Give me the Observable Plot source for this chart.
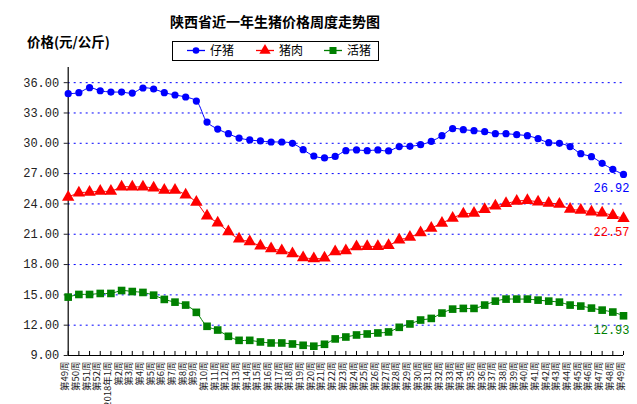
<!DOCTYPE html>
<html>
<head>
<meta charset="utf-8">
<script src="https://cdn.jsdelivr.net/npm/d3@7"></script>
<script src="https://cdn.jsdelivr.net/npm/@observablehq/plot@0.6"></script>
<style>
  html, body { margin: 0; padding: 0; background: #fff; }
  #wrap { position: relative; width: 637px; height: 404px; overflow: hidden; }
  #wrap svg.plot { position: absolute; left: 0; top: 0; }
  .ttl { position: absolute; font-family: "Noto Sans CJK SC", sans-serif; font-weight: bold; color: #000; white-space: nowrap; }
</style>
</head>
<body>
<div id="wrap"></div>
<script>
const weeks = ["第49周","第50周","第51周","第52周","2018年1周","第2周","第3周","第4周","第5周","第6周",
  "第7周","第8周","第9周","第10周","第11周","第12周","第13周","第14周","第15周","第16周",
  "第17周","第18周","第19周","第20周","第21周","第22周","第23周","第24周","第25周","第26周",
  "第27周","第28周","第29周","第30周","第31周","第32周","第33周","第34周","第35周","第36周",
  "第37周","第38周","第39周","第40周","第41周","第42周","第43周","第44周","第45周","第46周",
  "第47周","第48周","第49周"];

const piglet = [34.91,35.01,35.5,35.2,35.07,35.07,34.97,35.47,35.37,35.01,
  34.78,34.58,34.18,32.1,31.41,30.95,30.52,30.33,30.23,30.13,
  30.13,30.0,29.37,28.74,28.55,28.7,29.27,29.34,29.27,29.34,
  29.24,29.67,29.7,29.86,30.19,30.75,31.45,31.35,31.25,31.15,
  30.95,30.95,30.85,30.75,30.46,30.06,30.0,29.67,28.97,28.68,
  28.02,27.42,26.92];

const pork = [24.67,25.09,25.16,25.26,25.26,25.68,25.68,25.68,25.58,25.35,
  25.35,24.9,24.17,22.82,22.13,21.25,20.53,20.26,19.84,19.57,
  19.38,19.08,18.69,18.59,18.66,19.27,19.37,19.77,19.8,19.8,
  19.9,20.43,20.72,21.15,21.61,22.1,22.6,23.02,23.09,23.45,
  23.81,24.04,24.27,24.34,24.2,24.07,23.97,23.48,23.38,23.22,
  23.12,22.86,22.57];

const hog = [14.78,15.04,15.04,15.14,15.14,15.43,15.33,15.24,14.97,14.55,
  14.28,13.99,13.27,11.89,11.52,10.9,10.5,10.5,10.34,10.24,
  10.24,10.14,10.01,9.92,10.11,10.64,10.83,11.03,11.13,11.23,
  11.33,11.79,12.12,12.51,12.67,13.2,13.59,13.66,13.66,13.99,
  14.38,14.58,14.58,14.58,14.48,14.38,14.28,13.99,13.89,13.69,
  13.49,13.3,12.93];

const seriesNames = ["仔猪","猪肉","活猪"];
const seriesColors = ["#0000ff","#ff0000","#008000"];
const seriesSymbols = ["circle","triangle","square"];
const seriesR = [3.6, 4.6, 4.3];
const yTicks = [9,12,15,18,21,24,27,30,33,36];

const seriesValues = [piglet, pork, hog];
const rows = [];
seriesValues.forEach((vals, s) => vals.forEach((v, i) => rows.push({s, i, v})));
const lastRows = seriesValues.map((vals, s) => ({s, i: vals.length - 1, v: vals[vals.length - 1]}));
const idx = weeks.map((_, i) => i);

const mono = "'Liberation Mono', 'DejaVu Sans Mono', monospace";
const cjk = "'Noto Sans CJK SC', sans-serif";

const marks = [
  Plot.ruleY(yTicks.filter(t => t > 9), {y: d => d, x1: 0, x2: weeks.length - 1, stroke: "#0000ff", strokeWidth: 1, strokeDasharray: "2,4"}),
  Plot.axisY({ticks: yTicks, tickFormat: d => d.toFixed(2), tickSize: 4, tickPadding: 5, fontSize: 12, fontFamily: mono, label: null, color: "#222"}),
  Plot.ruleX([0], {stroke: "#000", strokeWidth: 1.2}),
  Plot.ruleY([9], {stroke: "#000", strokeWidth: 1.2}),
  Plot.ruleX(idx, {x: d => d, y1: 9, y2: 9.4, stroke: "#000"}),
  Plot.text(idx, {x: d => d, text: d => weeks[d], frameAnchor: "bottom", rotate: -90, textAnchor: "end", dy: 6, fontSize: 9.5, fontFamily: cjk, fill: "#222"})
];
seriesNames.forEach((name, s) => {
  const sub = rows.filter(r => r.s === s);
  marks.push(Plot.line(sub, {x: "i", y: "v", stroke: seriesColors[s], strokeWidth: 1, curve: "catmull-rom"}));
  marks.push(Plot.dot(sub, {x: "i", y: "v", symbol: seriesSymbols[s], r: seriesR[s], fill: seriesColors[s], stroke: "none"}));
});
marks.push(Plot.text(lastRows, {x: "i", y: "v", text: d => d.v.toFixed(2), fill: d => seriesColors[d.s], dx: -12, dy: 14, fontSize: 12, fontFamily: mono}));

const chart = Plot.plot({
  width: 637, height: 404,
  marginLeft: 67.7, marginRight: 14, marginTop: 67, marginBottom: 49,
  x: {type: "linear", domain: [0, weeks.length - 1], axis: null},
  y: {domain: [9, 37.5], axis: null},
  style: {background: "transparent", overflow: "visible"},
  marks
});
chart.classList.add("plot");
const wrap = document.getElementById("wrap");
wrap.appendChild(chart);

const title = document.createElement("div");
title.className = "ttl";
title.style.cssText = "left:75px;width:400px;text-align:center;top:12px;font-size:14px;line-height:18px;";
title.textContent = "陕西省近一年生猪价格周度走势图";
wrap.appendChild(title);

const ylab = document.createElement("div");
ylab.className = "ttl";
ylab.style.cssText = "left:27px;top:32px;font-size:13.5px;line-height:18px;";
ylab.textContent = "价格(元/公斤)";
wrap.appendChild(ylab);

// legend
const ns = "http://www.w3.org/2000/svg";
const leg = document.createElementNS(ns, "svg");
leg.setAttribute("width", 208); leg.setAttribute("height", 21);
leg.style.cssText = "position:absolute;left:171.5px;top:40.5px;";
const rect = document.createElementNS(ns, "rect");
rect.setAttribute("x", 0.5); rect.setAttribute("y", 0.5); rect.setAttribute("width", 206); rect.setAttribute("height", 19);
rect.setAttribute("fill", "#fff"); rect.setAttribute("stroke", "#000");
leg.appendChild(rect);
const legX = [15, 84, 152];
seriesNames.forEach((name, s) => {
  const x0 = legX[s];
  const ln = document.createElementNS(ns, "line");
  ln.setAttribute("x1", x0); ln.setAttribute("x2", x0 + 18); ln.setAttribute("y1", 9.5); ln.setAttribute("y2", 9.5);
  ln.setAttribute("stroke", seriesColors[s]); ln.setAttribute("stroke-width", 1.3);
  leg.appendChild(ln);
  const p = document.createElementNS(ns, "path");
  const sym = d3.symbol(s === 0 ? d3.symbolCircle : s === 1 ? d3.symbolTriangle : d3.symbolSquare, Math.PI * seriesR[s] * seriesR[s] * 0.85);
  p.setAttribute("d", sym());
  p.setAttribute("transform", `translate(${x0 + 9},9.5)`);
  p.setAttribute("fill", seriesColors[s]);
  leg.appendChild(p);
  const t = document.createElementNS(ns, "text");
  t.setAttribute("x", x0 + 23); t.setAttribute("y", 14);
  t.setAttribute("font-size", 12); t.setAttribute("font-family", "Noto Sans CJK SC, sans-serif");
  t.setAttribute("fill", "#000");
  t.textContent = name;
  leg.appendChild(t);
});
wrap.appendChild(leg);
</script>
</body>
</html>
